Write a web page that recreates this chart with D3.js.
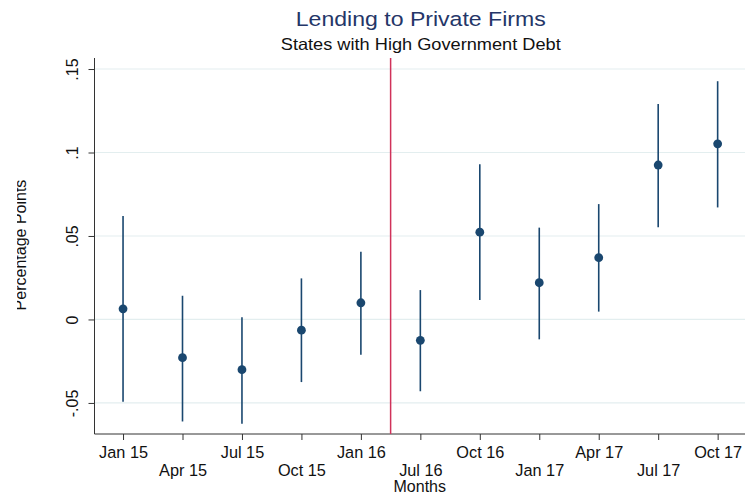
<!DOCTYPE html>
<html>
<head>
<meta charset="utf-8">
<script src="https://cdn.jsdelivr.net/npm/d3@7"></script>
<style>
  html, body { margin: 0; padding: 0; background: #fff; }
  svg { display: block; font-family: "Liberation Sans", Arial, Helvetica, sans-serif; }
</style>
</head>
<body>
<svg id="chart" width="748" height="495"></svg>
<script>
// Event-study estimates: point estimate with 95% confidence bounds
const months   = ["Jan 15", "Apr 15", "Jul 15", "Oct 15", "Jan 16", "Jul 16", "Oct 16", "Jan 17", "Apr 17", "Jul 17", "Oct 17"];
const estimate = [0.0064, -0.0229, -0.0301, -0.0064, 0.0100, -0.0125, 0.0523, 0.0220, 0.0370, 0.0925, 0.1052];
const ciLower  = [-0.0493, -0.0611, -0.0625, -0.0375, -0.0211, -0.0430, 0.0117, -0.0119, 0.0047, 0.0552, 0.0671];
const ciUpper  = [0.0619, 0.0142, 0.0014, 0.0246, 0.0405, 0.0176, 0.0929, 0.0550, 0.0691, 0.1291, 0.1427];
const yTicks   = [-0.05, 0, 0.05, 0.1, 0.15];
const yTickLabels = ["-.05", "0", ".05", ".1", ".15"];
const breakPosition = 4.5; // policy date, between Jan 16 and Jul 16

const svg = d3.select("#chart");
const plot = { left: 94.5, right: 745, top: 58, bottom: 434 };

const x = d3.scaleLinear().domain([-0.48, 10.46]).range([plot.left, plot.right]);
const y = d3.scaleLinear().domain([-0.0686, 0.1566]).range([plot.bottom, plot.top]);

const navy = "#1a476f";

// horizontal grid
svg.append("g")
  .selectAll("line")
  .data(yTicks)
  .join("line")
  .attr("x1", plot.left).attr("x2", plot.right)
  .attr("y1", d => y(d)).attr("y2", d => y(d))
  .attr("stroke", "#e3eeef").attr("stroke-width", 1.2);

// y axis
const yAxis = d3.axisLeft(y).tickValues(yTicks).tickSize(6).tickFormat((d, i) => yTickLabels[i]);
const gy = svg.append("g").attr("transform", `translate(${plot.left},0)`).call(yAxis);
gy.select(".domain").attr("d", `M0,${plot.top}V${plot.bottom}`).attr("stroke", "#333");
gy.selectAll(".tick line").attr("stroke", "#333");
gy.selectAll(".tick text")
  .attr("x", null).attr("dy", null)
  .attr("transform", "translate(-16.5,0) rotate(-90)")
  .attr("text-anchor", "middle")
  .attr("font-size", 16)
  .attr("fill", "#111")
  .attr("font-family", "Liberation Sans, Arial, sans-serif");

// x axis
const xAxis = d3.axisBottom(x).tickValues(d3.range(months.length)).tickSize(6).tickFormat(i => months[i]);
const gx = svg.append("g").attr("transform", `translate(0,${plot.bottom})`).call(xAxis);
gx.select(".domain").attr("d", `M${plot.left},0H${plot.right}`).attr("stroke", "#333");
gx.selectAll(".tick line").attr("stroke", "#333");
gx.selectAll(".tick text")
  .attr("y", (d, i) => i % 2 === 0 ? 24 : 41.7)
  .attr("dy", null)
  .attr("font-size", 16.3)
  .attr("fill", "#111")
  .attr("font-family", "Liberation Sans, Arial, sans-serif");

// vertical marker at the policy date
svg.append("line")
  .attr("x1", x(breakPosition)).attr("x2", x(breakPosition))
  .attr("y1", plot.top).attr("y2", plot.bottom)
  .attr("stroke", "#d0325a").attr("stroke-width", 1.5);

// confidence intervals
svg.append("g")
  .selectAll("line")
  .data(months)
  .join("line")
  .attr("x1", (d, i) => x(i)).attr("x2", (d, i) => x(i))
  .attr("y1", (d, i) => y(ciLower[i])).attr("y2", (d, i) => y(ciUpper[i]))
  .attr("stroke", navy).attr("stroke-width", 1.6);

// point estimates
svg.append("g")
  .selectAll("circle")
  .data(months)
  .join("circle")
  .attr("cx", (d, i) => x(i))
  .attr("cy", (d, i) => y(estimate[i]))
  .attr("r", 4.4)
  .attr("fill", navy);

// titles
const midX = (plot.left + plot.right) / 2;
svg.append("text")
  .attr("x", midX + 1).attr("y", 26)
  .attr("text-anchor", "middle")
  .attr("font-size", 20.5)
  .attr("fill", "#243668")
  .attr("textLength", 250).attr("lengthAdjust", "spacingAndGlyphs")
  .text("Lending to Private Firms");

svg.append("text")
  .attr("x", midX + 1).attr("y", 49.5)
  .attr("text-anchor", "middle")
  .attr("font-size", 16.5)
  .attr("fill", "#111")
  .attr("textLength", 280).attr("lengthAdjust", "spacingAndGlyphs")
  .text("States with High Government Debt");

// axis titles
svg.append("text")
  .attr("x", midX).attr("y", 492)
  .attr("text-anchor", "middle")
  .attr("font-size", 16)
  .attr("fill", "#111")
  .text("Months");

// the y title sits at the page edge; its ascenders are trimmed off
svg.append("defs").append("clipPath").attr("id", "ytitle-clip")
  .append("rect").attr("x", 17).attr("y", 0).attr("width", 40).attr("height", 495);

svg.append("g")
  .attr("clip-path", "url(#ytitle-clip)")
  .append("text")
  .attr("transform", `translate(26,${(plot.top + plot.bottom) / 2 - 1}) rotate(-90)`)
  .attr("text-anchor", "middle")
  .attr("font-size", 16)
  .attr("fill", "#111")
  .text("Percentage Points");
</script>
</body>
</html>
